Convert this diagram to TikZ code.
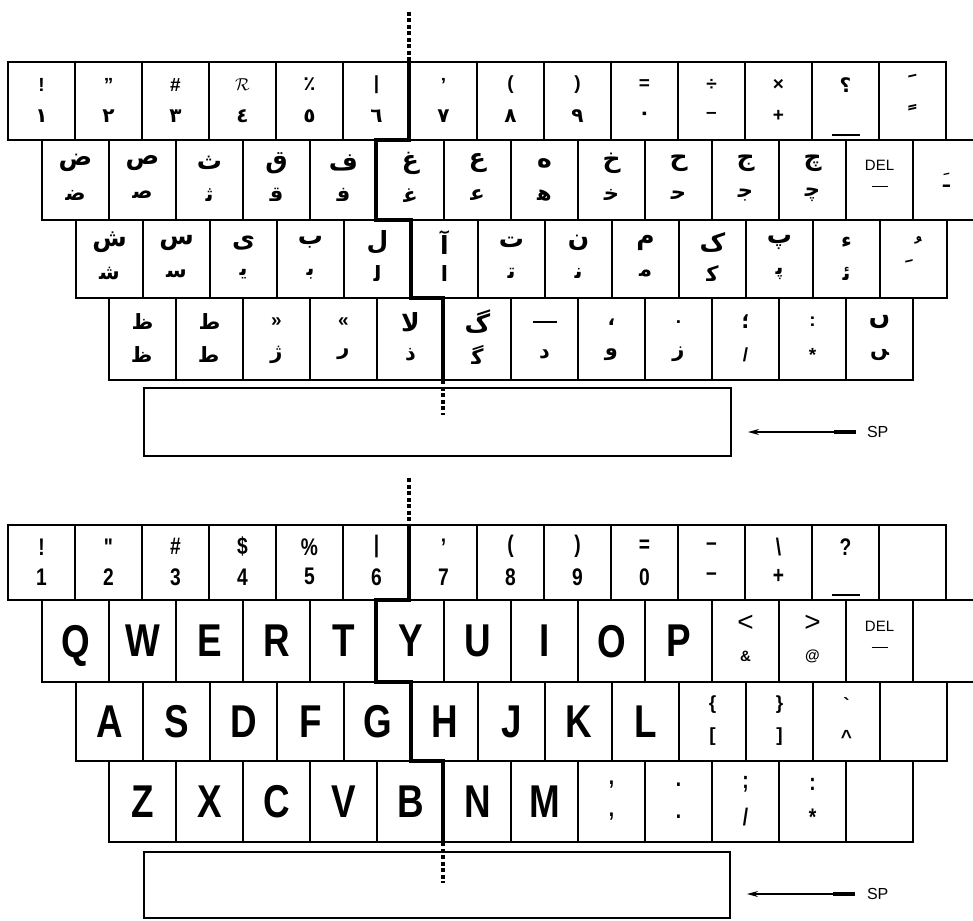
\documentclass[tikz,border=0pt]{standalone}
\usepackage{fontspec}
\setmainfont{Liberation Sans}
\newfontfamily\ar[Script=Arabic]{DejaVu Sans}
\newfontfamily\cond[FakeStretch=0.8]{Liberation Sans}
\TeXXeTstate=1
\usetikzlibrary{arrows.meta}
\newcommand\zj{^^^^200d}
\newcommand\At[1]{{\fontsize{25}{25}\selectfont\ar\bfseries\beginR#1\endR}}
\newcommand\Ab[1]{{\fontsize{21}{21}\selectfont\ar\bfseries\beginR#1\endR}}
\newcommand\Ad[1]{{\fontsize{20}{20}\selectfont\ar\bfseries#1}}
\newcommand\Ak[1]{{\fontsize{28}{28}\selectfont\ar\bfseries#1}}
\newcommand\Am[1]{{\fontsize{26}{26}\selectfont\ar\bfseries#1}}
\newcommand\Sy[1]{{\fontsize{19}{19}\selectfont\bfseries#1}}
\newcommand\Cs[1]{{\fontsize{24}{24}\selectfont\cond\bfseries#1}}
\newcommand\Cl[1]{{\fontsize{46}{46}\selectfont\cond\bfseries#1}}
\newcommand\Dl{{\fontsize{15}{15}\selectfont DEL}}
\newcommand\rowset[3]{\def\rx{#1}\def\rt{#2}\def\rb{#3}}
\newcommand\kk[4]{%
  \pgfmathsetmacro\cx{\rx+67*(#2-0.5)}%
  \pgfmathsetmacro\hh{\rb-\rt}%
  \pgfmathsetmacro\cy{(\rt+\rb)/2}%
  \node[keybox, minimum height=\hh pt] (#1) at (\cx,\cy) {};
  \node[lab] (#1-u) at (\cx,{\rt+0.29*\hh}) {#3};
  \node[lab] (#1-d) at (\cx,{\rt+0.69*\hh}) {#4};
}
\newcommand\kc[3]{%
  \pgfmathsetmacro\cx{\rx+67*(#2-0.5)}%
  \pgfmathsetmacro\hh{\rb-\rt}%
  \pgfmathsetmacro\cy{(\rt+\rb)/2}%
  \node[keybox, minimum height=\hh pt] (#1) at (\cx,\cy) {};
  \node[lab, text depth=0pt] (#1-c) at (\cx,\cy) {#3};
}
\newcommand\kdel[1]{%
  \pgfmathsetmacro\cx{\rx+67*(12.5)}%
  \pgfmathsetmacro\hh{\rb-\rt}%
  \pgfmathsetmacro\cy{(\rt+\rb)/2}%
  \node[keybox, minimum height=\hh pt] (#1) at (\cx,\cy) {};
  \node[lab] (#1-u) at (\cx,{\rt+0.32*\hh}) {\Dl};
  \node[lab] (#1-d) at (\cx,{\rt+0.58*\hh}) {\rule{16pt}{1.5pt}};
}
\newcommand\kund[2]{%
  \pgfmathsetmacro\cx{\rx+67*(12.5)}%
  \pgfmathsetmacro\hh{\rb-\rt}%
  \pgfmathsetmacro\cy{(\rt+\rb)/2}%
  \node[keybox, minimum height=\hh pt] (#1) at (\cx,\cy) {};
  \node[lab] (#1-u) at (\cx,{\rt+0.29*\hh}) {#2};
  \node[lab] (#1-d) at (\cx,{\rb-5}) {\rule{28pt}{1.6pt}};
}
\tikzset{
  keybox/.style={draw, line width=1.4pt, minimum width=67pt, inner sep=0pt, outer sep=0pt},
  lab/.style={inner sep=0pt, outer sep=0pt, anchor=center},
  divline/.style={line width=3.5pt},
  divdash/.style={line width=3.5pt, dash pattern=on 4pt off 2.5pt},
}
\begin{document}
\begin{tikzpicture}[x=1pt,y=-1pt]
\useasboundingbox (0,0) rectangle (973,920);
\clip (0,0) rectangle (973,920);
% ===================== TOP (Arabic) KEYBOARD =====================
\rowset{8}{62}{140}
\kk{A1-1}{1}{\Sy{!}}{\Ad{١}}
\kk{A1-2}{2}{\Sy{"}}{\Ad{٢}}
\kk{A1-3}{3}{\Sy{\#}}{\Ad{٣}}
\kk{A1-4}{4}{\Sy{$\mathcal{R}$}}{\Ad{٤}}
\kk{A1-5}{5}{\Ad{٪}}{\Ad{٥}}
\kk{A1-6}{6}{\Sy{|}}{\Ad{٦}}
\kk{A1-7}{7}{\Sy{'}}{\Ad{٧}}
\kk{A1-8}{8}{\Sy{(}}{\Ad{٨}}
\kk{A1-9}{9}{\Sy{)}}{\Ad{٩}}
\kk{A1-10}{10}{\Sy{=}}{\Ad{٠}}
\kk{A1-11}{11}{\Sy{÷}}{\Sy{–}}
\kk{A1-12}{12}{\Sy{×}}{\Sy{+}}
\kund{A1-13}{\Ad{؟}}
\kk{A1-14}{14}{\Ak{ﹶ}}{\Ak{ﹰ}}
\rowset{42}{140}{220}
\kk{A2-1}{1}{\At{ض}}{\Ab{ض\zj}}
\kk{A2-2}{2}{\At{ص}}{\Ab{ص\zj}}
\kk{A2-3}{3}{\At{ث}}{\Ab{ث\zj}}
\kk{A2-4}{4}{\At{ق}}{\Ab{ق\zj}}
\kk{A2-5}{5}{\At{ف}}{\Ab{ف\zj}}
\kk{A2-6}{6}{\At{غ}}{\Ab{غ\zj}}
\kk{A2-7}{7}{\At{ع}}{\Ab{ع\zj}}
\kk{A2-8}{8}{\At{ه}}{\Ab{ه\zj}}
\kk{A2-9}{9}{\At{خ}}{\Ab{خ\zj}}
\kk{A2-10}{10}{\At{ح}}{\Ab{ح\zj}}
\kk{A2-11}{11}{\At{ج}}{\Ab{ج\zj}}
\kk{A2-12}{12}{\At{چ}}{\Ab{چ\zj}}
\kdel{A2-13}
\kc{A2-14}{14}{\Ad{ﹷ}}
\rowset{76}{220}{298}
\kk{A3-1}{1}{\At{ش}}{\Ab{ش\zj}}
\kk{A3-2}{2}{\At{س}}{\Ab{س\zj}}
\kk{A3-3}{3}{\At{ی}}{\Ab{ی\zj}}
\kk{A3-4}{4}{\At{ب}}{\Ab{ب\zj}}
\kk{A3-5}{5}{\At{ل}}{\Ab{ل\zj}}
\kk{A3-6}{6}{\At{آ}}{\Ab{ا}}
\kk{A3-7}{7}{\At{ت}}{\Ab{ت\zj}}
\kk{A3-8}{8}{\At{ن}}{\Ab{ن\zj}}
\kk{A3-9}{9}{\At{م}}{\Ab{م\zj}}
\kk{A3-10}{10}{\At{ک}}{\Ab{ک\zj}}
\kk{A3-11}{11}{\At{پ}}{\Ab{پ\zj}}
\kk{A3-12}{12}{\Ab{ء}}{\Ab{ئ\zj}}
\pgfmathsetmacro\cx{76+67*12.5}
\node[keybox, minimum height=78pt] (A3-13) at (\cx,259) {};
\node[lab, anchor=base] (A3-13-c) at (\cx,259) {\Am{ﹸﹺ}};
\rowset{109}{298}{380}
\kk{A4-1}{1}{\Ab{ظ}}{\Ab{ظ\zj}}
\kk{A4-2}{2}{\Ab{ط}}{\Ab{ط\zj}}
\kk{A4-3}{3}{\Sy{»}}{\Ab{ژ}}
\kk{A4-4}{4}{\Sy{«}}{\Ab{ر}}
\kk{A4-5}{5}{\At{لا}}{\Ab{ذ}}
\kk{A4-6}{6}{\At{گ}}{\Ab{گ\zj}}
\kk{A4-7}{7}{\rule{24pt}{2.5pt}}{\Ab{د}}
\kk{A4-8}{8}{\Ad{،}}{\Ab{و}}
\kk{A4-9}{9}{\Sy{.}}{\Ab{ز}}
\kk{A4-10}{10}{\Ad{؛}}{\Sy{/}}
\kk{A4-11}{11}{\Sy{:}}{\Sy{*}}
\kk{A4-12}{12}{\At{ں}}{\Ab{\zj ں}}
\node[keybox, minimum width=587pt, minimum height=68pt] (Aspace) at (437.5,422) {};
% divider
\coordinate (Ad0) at (409,12);
\coordinate (Ad1) at (409,62);
\coordinate (Ad2) at (409,140);
\coordinate (Ad3) at (376,140);
\coordinate (Ad4) at (376,220);
\coordinate (Ad5) at (411,220);
\coordinate (Ad6) at (411,298);
\coordinate (Ad7) at (443,298);
\coordinate (Ad8) at (443,380);
\coordinate (Ad9) at (443,415);
\draw[divdash] (Ad0) -- (Ad1);
\draw[divline, line join=miter] (Ad1) -- (Ad2) -- (Ad3) -- (Ad4) -- (Ad5) -- (Ad6) -- (Ad7) -- (Ad8);
\draw[divdash] (Ad8) -- (Ad9);
% SP arrow
\coordinate (Aa1) at (748,432);
\coordinate (Aa2) at (856,432);
\coordinate (Aa3) at (834,432);
\draw[line width=1.2pt, -{Stealth[length=11pt,width=6pt]}] (Aa2) -- (Aa1);
\draw[line width=3.2pt] (Aa3) -- (Aa2);
\node[lab, anchor=west, font=\fontsize{16}{16}\selectfont] (Asp) at (867,432) {SP};
% ===================== BOTTOM (Latin) KEYBOARD =====================
\rowset{8}{525}{600}
\kk{B1-1}{1}{\Cs{!}}{\Cs{1}}
\kk{B1-2}{2}{\Cs{"}}{\Cs{2}}
\kk{B1-3}{3}{\Cs{\#}}{\Cs{3}}
\kk{B1-4}{4}{\Cs{\$}}{\Cs{4}}
\kk{B1-5}{5}{\Cs{\%}}{\Cs{5}}
\kk{B1-6}{6}{\Cs{|}}{\Cs{6}}
\kk{B1-7}{7}{\Cs{’}}{\Cs{7}}
\kk{B1-8}{8}{\Cs{(}}{\Cs{8}}
\kk{B1-9}{9}{\Cs{)}}{\Cs{9}}
\kk{B1-10}{10}{\Cs{=}}{\Cs{0}}
\kk{B1-11}{11}{\Cs{–}}{\Cs{–}}
\kk{B1-12}{12}{\Cs{\textbackslash}}{\Cs{+}}
\kund{B1-13}{\Cs{?}}
\kc{B1-14}{14}{}
\rowset{42}{600}{682}
\kc{B2-1}{1}{\Cl{Q}}
\kc{B2-2}{2}{\Cl{W}}
\kc{B2-3}{3}{\Cl{E}}
\kc{B2-4}{4}{\Cl{R}}
\kc{B2-5}{5}{\Cl{T}}
\kc{B2-6}{6}{\Cl{Y}}
\kc{B2-7}{7}{\Cl{U}}
\kc{B2-8}{8}{\Cl{I}}
\kc{B2-9}{9}{\Cl{O}}
\kc{B2-10}{10}{\Cl{P}}
\kk{B2-11}{11}{{\fontsize{28}{28}\selectfont <}}{{\fontsize{15}{15}\selectfont\bfseries\&}}
\kk{B2-12}{12}{{\fontsize{28}{28}\selectfont >}}{{\fontsize{15}{15}\selectfont\bfseries @}}
\kdel{B2-13}
\kc{B2-14}{14}{}
\rowset{76}{682}{761}
\kc{B3-1}{1}{\Cl{A}}
\kc{B3-2}{2}{\Cl{S}}
\kc{B3-3}{3}{\Cl{D}}
\kc{B3-4}{4}{\Cl{F}}
\kc{B3-5}{5}{\Cl{G}}
\kc{B3-6}{6}{\Cl{H}}
\kc{B3-7}{7}{\Cl{J}}
\kc{B3-8}{8}{\Cl{K}}
\kc{B3-9}{9}{\Cl{L}}
\kk{B3-10}{10}{\Sy{\{}}{\Sy{[}}
\kk{B3-11}{11}{\Sy{\}}}{\Sy{]}}
\kk{B3-12}{12}{\Sy{\textasciigrave}}{\Sy{\textasciicircum}}
\kc{B3-13}{13}{}
\rowset{109}{761}{842}
\kc{B4-1}{1}{\Cl{Z}}
\kc{B4-2}{2}{\Cl{X}}
\kc{B4-3}{3}{\Cl{C}}
\kc{B4-4}{4}{\Cl{V}}
\kc{B4-5}{5}{\Cl{B}}
\kc{B4-6}{6}{\Cl{N}}
\kc{B4-7}{7}{\Cl{M}}
\kk{B4-8}{8}{\Cs{,}}{\Cs{,}}
\kk{B4-9}{9}{\Cs{.}}{\Cs{.}}
\kk{B4-10}{10}{\Cs{;}}{\Cs{/}}
\kk{B4-11}{11}{\Cs{:}}{\Cs{*}}
\kc{B4-12}{12}{}
\node[keybox, minimum width=586pt, minimum height=66pt] (Bspace) at (437,885) {};
% divider
\coordinate (Bd0) at (409,478);
\coordinate (Bd1) at (409,525);
\coordinate (Bd2) at (409,600);
\coordinate (Bd3) at (376,600);
\coordinate (Bd4) at (376,682);
\coordinate (Bd5) at (411,682);
\coordinate (Bd6) at (411,761);
\coordinate (Bd7) at (443,761);
\coordinate (Bd8) at (443,842);
\coordinate (Bd9) at (443,883);
\draw[divdash] (Bd0) -- (Bd1);
\draw[divline, line join=miter] (Bd1) -- (Bd2) -- (Bd3) -- (Bd4) -- (Bd5) -- (Bd6) -- (Bd7) -- (Bd8);
\draw[divdash] (Bd8) -- (Bd9);
% SP arrow
\coordinate (Ba1) at (747,894);
\coordinate (Ba2) at (855,894);
\coordinate (Ba3) at (833,894);
\draw[line width=1.2pt, -{Stealth[length=11pt,width=6pt]}] (Ba2) -- (Ba1);
\draw[line width=3.2pt] (Ba3) -- (Ba2);
\node[lab, anchor=west, font=\fontsize{16}{16}\selectfont] (Bsp) at (867,894) {SP};
\end{tikzpicture}
\end{document}
